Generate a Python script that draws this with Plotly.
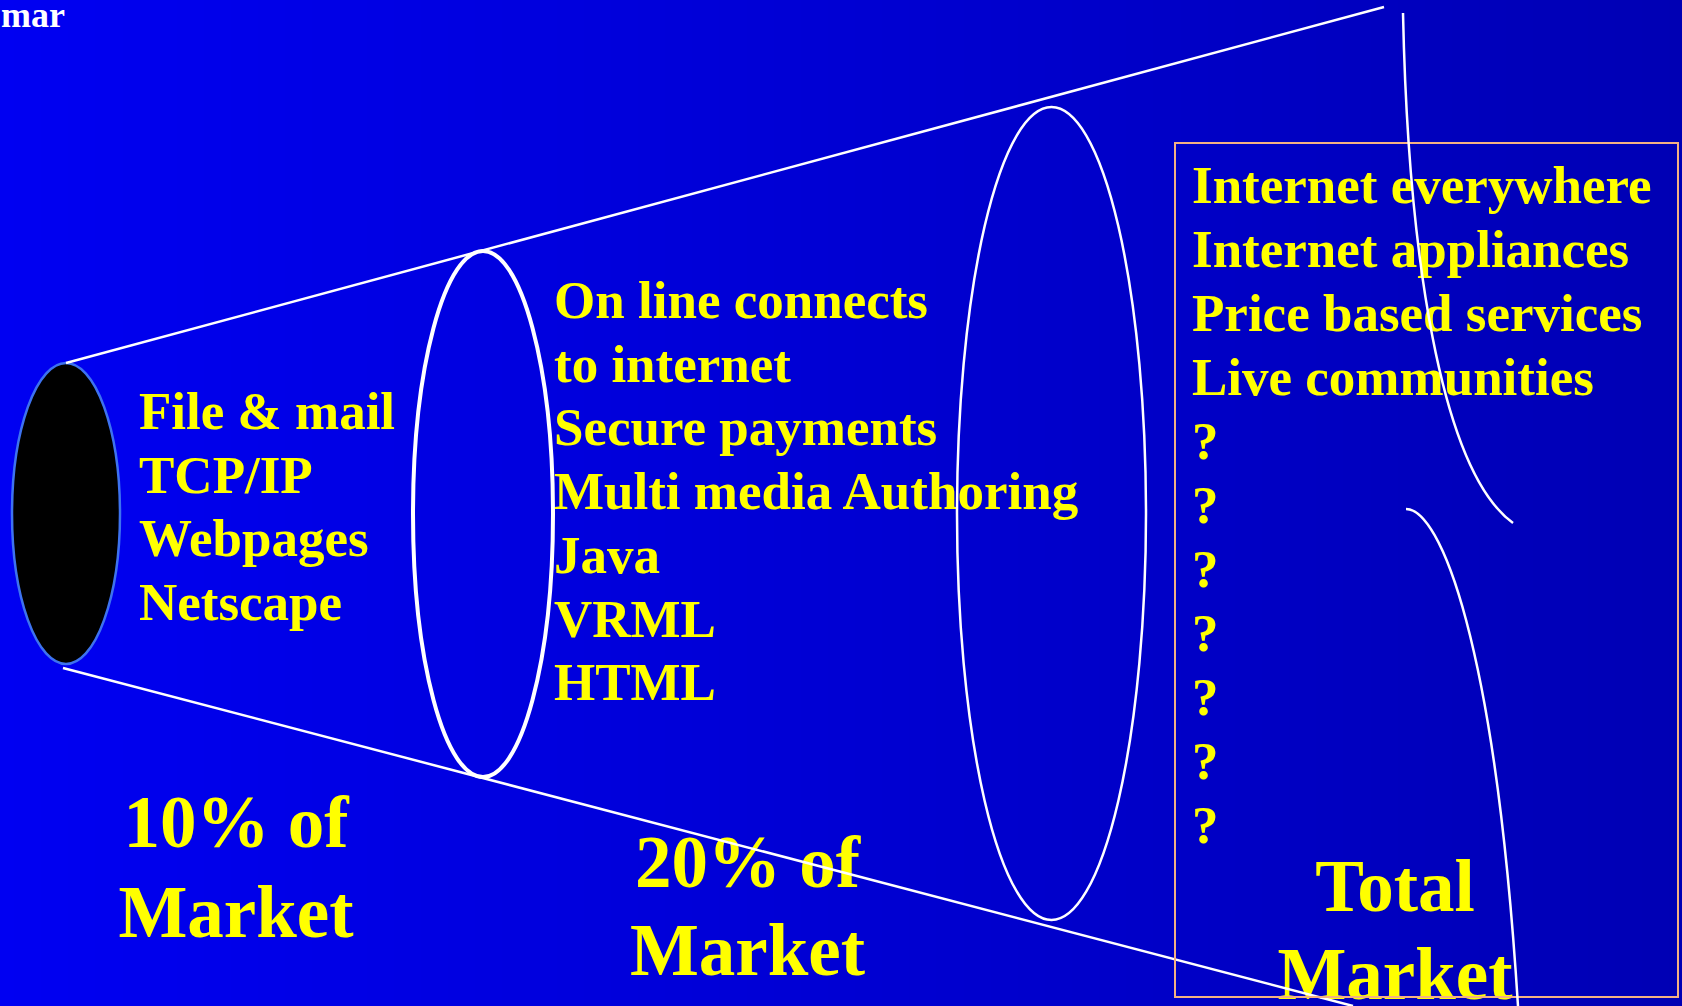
import plotly.graph_objects as go

W, H = 1682, 1006

# ---- text content ----
corner_label = "mar"
stage1_items = ["File & mail", "TCP/IP", "Webpages", "Netscape"]
stage2_items = ["On line connects", "to internet", "Secure payments",
                "Multi media Authoring", "Java", "VRML", "HTML"]
stage3_items = ["Internet everywhere", "Internet appliances",
                "Price based services", "Live communities",
                "?", "?", "?", "?", "?", "?", "?"]
stage1_share = ["10% of", "Market"]
stage2_share = ["20% of", "Market"]
stage3_share = ["Total", "Market"]

YELLOW = "#ffff00"
FONT = "Liberation Serif"

fig = go.Figure()

# background gradient
fig.add_trace(go.Heatmap(
    z=[[0, 1], [0, 1]], x=[0, W], y=[0, H], zsmooth="best",
    colorscale=[[0, "#0000f2"], [1, "#0000b4"]], showscale=False,
    hoverinfo="skip"))


def add_lines(lines, x, base0, step, size, pos, color=YELLOW):
    ys = [base0 + i * step - 0.25 * size for i in range(len(lines))]
    fig.add_trace(go.Scatter(
        x=[x] * len(lines), y=ys, mode="text", text=lines,
        textposition=pos, hoverinfo="skip", showlegend=False,
        textfont=dict(family=FONT, size=size, color=color, weight="bold")))


add_lines([corner_label], 1, 27, 0, 36, "middle right", color="#ffffff")
add_lines(stage1_items, 139, 429, 63.5, 53, "middle right")
add_lines(stage2_items, 554, 318, 63.7, 53, "middle right")
add_lines(stage3_items, 1192, 203, 64, 53, "middle right")
add_lines(stage1_share, 236, 847, 90, 73, "middle center")
add_lines(stage2_share, 747.5, 887, 88, 73, "middle center")
add_lines(stage3_share, 1395, 911, 88, 73, "middle center")

shapes = [
    # small black opening
    dict(type="circle", x0=12, x1=120, y0=363, y1=664,
         fillcolor="#000000", line=dict(color="#3d72f0", width=2.5)),
    # cone edges
    dict(type="line", x0=66, y0=363, x1=1384, y1=7,
         line=dict(color="#ffffff", width=2.5)),
    dict(type="line", x0=63, y0=668, x1=1353, y1=1006,
         line=dict(color="#ffffff", width=2.5)),
    # middle ring
    dict(type="circle", x0=413, x1=553, y0=251, y1=777,
         line=dict(color="#ffffff", width=4)),
    # large ring
    dict(type="circle", x0=957, x1=1146, y0=107, y1=920,
         line=dict(color="#ffffff", width=2.5)),
    # total market box
    dict(type="rect", x0=1175, x1=1678, y0=143, y1=997,
         line=dict(color="#f4b183", width=2)),
    # curves
    dict(type="path", path="M 1403,13 C 1408,250 1440,470 1513,523",
         line=dict(color="#ffffff", width=2.5)),
    dict(type="path", path="M 1406,509 C 1440,509 1495,640 1518,1006",
         line=dict(color="#ffffff", width=2.5)),
]

fig.update_layout(
    width=W, height=H, margin=dict(l=0, r=0, t=0, b=0),
    paper_bgcolor="#0000d0", plot_bgcolor="#0000d0",
    xaxis=dict(range=[0, W], visible=False, fixedrange=True),
    yaxis=dict(range=[H, 0], visible=False, fixedrange=True),
    shapes=shapes, showlegend=False,
)

fig.write_html("out.html", config={"displayModeBar": False},
               post_script="document.body.style.margin='0';"
                           "document.body.style.overflow='hidden';")
